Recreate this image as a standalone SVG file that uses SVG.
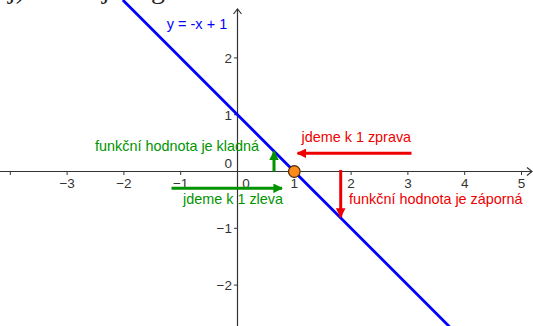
<svg xmlns="http://www.w3.org/2000/svg" width="533" height="326" viewBox="0 0 533 326">
<style>
.ax{stroke:#333;stroke-width:1.2;fill:none}
.tk{stroke:#333;stroke-width:1}
.lbl{font-family:"Liberation Sans",Arial,sans-serif;font-size:13.5px;fill:#333}
.g{font-family:"Liberation Sans",Arial,sans-serif;font-size:14.4px;fill:#009400}
.r{font-family:"Liberation Sans",Arial,sans-serif;font-size:14.4px;fill:#ee0000}
.ga{stroke:#009400;stroke-width:3;fill:none}
.ra{stroke:#ee0000;stroke-width:3;fill:none}
</style>
<defs>
<marker id="mg" viewBox="0 0 10 10" refX="9" refY="5" markerWidth="3.2" markerHeight="3.2" orient="auto" markerUnits="strokeWidth">
<path d="M0,0 L10,5 L0,10 Z" fill="#009400"/>
</marker>
<marker id="mr" viewBox="0 0 10 10" refX="9" refY="5" markerWidth="3.2" markerHeight="3.2" orient="auto" markerUnits="strokeWidth">
<path d="M0,0 L10,5 L0,10 Z" fill="#ee0000"/>
</marker>
</defs>
<rect width="533" height="326" fill="#fff"/>
<text x="8" y="-2" font-family="Liberation Serif,serif" font-size="28" fill="#222">j) Sestrojme graf</text>
<g id="axes">
<line class="ax" x1="0" y1="171.5" x2="532" y2="171.5"/>
<path class="ax" d="M527,167.5 L532,171.5 L527,175.5"/>
<line class="ax" x1="237.5" y1="326" x2="237.5" y2="9"/>
<path class="ax" d="M233.5,14 L237.5,9 L241.5,14"/>
<g class="tk">
<line x1="10.3" y1="171.5" x2="10.3" y2="175"/>
<line x1="67.1" y1="171.5" x2="67.1" y2="175"/>
<line x1="123.9" y1="171.5" x2="123.9" y2="175"/>
<line x1="180.7" y1="171.5" x2="180.7" y2="175"/>
<line x1="294.3" y1="171.5" x2="294.3" y2="175"/>
<line x1="351.1" y1="171.5" x2="351.1" y2="175"/>
<line x1="407.9" y1="171.5" x2="407.9" y2="175"/>
<line x1="464.7" y1="171.5" x2="464.7" y2="175"/>
<line x1="521.5" y1="171.5" x2="521.5" y2="175"/>
<line x1="234" y1="57.9" x2="237.5" y2="57.9"/>
<line x1="234" y1="114.7" x2="237.5" y2="114.7"/>
<line x1="234" y1="228.3" x2="237.5" y2="228.3"/>
<line x1="234" y1="285.1" x2="237.5" y2="285.1"/>
</g>
<g class="lbl" text-anchor="middle">
<text x="67.1" y="187.5">−3</text>
<text x="123.9" y="187.5">−2</text>
<text x="180.7" y="187.5">−1</text>
<text x="246" y="187.5">0</text>
<text x="294.3" y="187.5">1</text>
<text x="351.1" y="187.5">2</text>
<text x="407.9" y="187.5">3</text>
<text x="464.7" y="187.5">4</text>
<text x="521.5" y="187.5">5</text>
</g>
<g class="lbl" text-anchor="end">
<text x="232" y="62.5">2</text>
<text x="232" y="119.5">1</text>
<text x="232" y="168">0</text>
<text x="232" y="233">−1</text>
<text x="232" y="290">−2</text>
</g>
</g>
<g id="line">
<line x1="122.8" y1="0" x2="450" y2="327.2" stroke="#0000ff" stroke-width="2.8"/>
<text x="197" y="29" font-family="Liberation Sans,Arial,sans-serif" font-size="14.5" fill="#0000ff" text-anchor="middle">y = -x + 1</text>
</g>
<g id="connectors">
<line class="ga" x1="274" y1="171.5" x2="274" y2="151.5" marker-end="url(#mg)"/>
<line class="ga" x1="171.5" y1="188.3" x2="282" y2="188.3" marker-end="url(#mg)"/>
<line class="ra" x1="411.5" y1="153.3" x2="297.5" y2="153.3" marker-end="url(#mr)"/>
<line class="ra" x1="340.7" y1="170" x2="340.7" y2="217" marker-end="url(#mr)"/>
</g>
<g id="labels">
<text class="g" x="95" y="151">funkční hodnota je kladná</text>
<text class="g" x="183" y="204">jdeme k 1 zleva</text>
<text class="r" x="301.5" y="141.5">jdeme k 1 zprava</text>
<text class="r" x="349" y="204">funkční hodnota je záporná</text>
</g>
<g id="point">
<circle cx="294.3" cy="171.5" r="5.8" fill="#ff8a1c" stroke="#4a2a00" stroke-width="1.2"/>
</g>
</svg>
